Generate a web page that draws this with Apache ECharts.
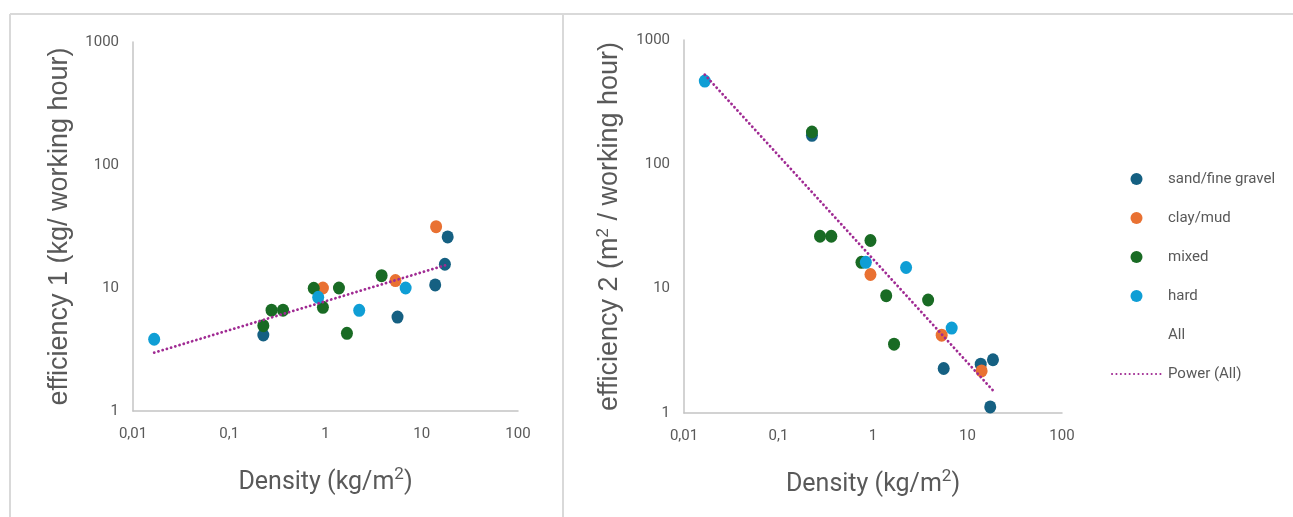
<!DOCTYPE html>
<html>
<head>
<meta charset="utf-8">
<script src="https://cdn.jsdelivr.net/npm/echarts@6/dist/echarts.min.js"></script>
<style>
html,body{margin:0;padding:0;background:#fff;}
#chart{width:1293px;height:517px;}
</style>
</head>
<body>
<div id="chart"></div>
<script>
// ---- data ----
const seriesNames = ['sand/fine gravel', 'clay/mud', 'mixed', 'hard'];
const seriesColors = ['#156082', '#E97132', '#196B24', '#0F9ED5'];

const densitySand  = [0.226, 5.6, 13.8, 17.4, 18.6];
const eff1Sand     = [4.15, 5.8, 10.6, 15.6, 26.0];
const eff2Sand     = [171, 2.28, 2.47, 1.12, 2.68];

const densityClay  = [0.94, 5.33, 14.1];
const eff1Clay     = [10.0, 11.5, 31.5];
const eff2Clay     = [13.0, 4.23, 2.18];

const densityMixed = [0.226, 0.275, 0.362, 0.755, 0.94, 1.38, 1.67, 3.83];
const eff1Mixed    = [4.94, 6.6, 6.6, 9.95, 6.97, 10.0, 4.28, 12.6];
const eff2Mixed    = [182, 26.4, 26.4, 16.3, 24.4, 8.78, 3.58, 8.11];

const densityHard  = [0.0166, 0.84, 2.24, 6.8];
const eff1Hard     = [3.83, 8.4, 6.58, 10.0];
const eff2Hard     = [467, 16.3, 14.8, 4.82];

const xTickLabels = ['0,01', '0,1', '1', '10', '100'];
const yTickLabels = ['1', '10', '100', '1000'];

const xTitle = 'Density (kg/m{sup|2})';
const yTitle1 = 'efficiency 1 (kg/ working hour)';
const yTitle2 = 'efficiency 2 (m{sup|2} / working hour)';

// ---- helpers ----
const densities = [densitySand, densityClay, densityMixed, densityHard];
const eff1 = [eff1Sand, eff1Clay, eff1Mixed, eff1Hard];
const eff2 = [eff2Sand, eff2Clay, eff2Mixed, eff2Hard];

function pairs(xs, ys){ return xs.map((x,i)=>[x, ys[i]]); }

function powerFitLine(effs){
  const xs = [], ys = [];
  densities.forEach((d,k)=>d.forEach((x,i)=>{ xs.push(x); ys.push(effs[k][i]); }));
  const lx = xs.map(Math.log10), ly = ys.map(Math.log10);
  const n = lx.length;
  const mx = lx.reduce((a,b)=>a+b,0)/n, my = ly.reduce((a,b)=>a+b,0)/n;
  let sxy=0, sxx=0;
  for(let i=0;i<n;i++){ sxy += (lx[i]-mx)*(ly[i]-my); sxx += (lx[i]-mx)*(lx[i]-mx); }
  const b = sxy/sxx, a = my - b*mx;
  const xmin = Math.min(...xs), xmax = Math.max(...xs);
  return [xmin, xmax].map(x => [x, Math.pow(10, a + b*Math.log10(x))]);
}

const labelColor = '#595959';
const axisLineColor = '#c4c4c4';

function makeX(gridIndex){
  return {
    type:'log', logBase:10, min:0.01, max:100, gridIndex,
    name: xTitle, nameLocation:'middle', nameGap:55,
    nameTextStyle:{fontFamily:'Roboto', fontSize:25, color:labelColor,
      rich:{sup:{fontFamily:'Roboto', fontSize:17, color:labelColor, verticalAlign:'top', padding:[0,0,16,0]}}},
    axisLine:{show:true, onZero:false, lineStyle:{color:axisLineColor, width:1.5}},
    axisTick:{show:false}, splitLine:{show:false},
    axisLabel:{margin:16, fontFamily:'Roboto', fontSize:15, color:labelColor,
      showMinLabel:true, showMaxLabel:true,
      formatter:v => xTickLabels[Math.round(Math.log10(v))+2]}
  };
}
function makeY(gridIndex, title){
  return {
    type:'log', logBase:10, min:1, max:1000, gridIndex,
    name: title, nameLocation:'middle', nameGap:60, nameRotate:90,
    nameTextStyle:{fontFamily:'Liberation Sans', fontSize:27, color:labelColor,
      rich:{sup:{fontFamily:'Liberation Sans', fontSize:17, color:labelColor, verticalAlign:'top', padding:[0,0,12,0]}}},
    axisLine:{show:true, onZero:false, lineStyle:{color:axisLineColor, width:1.5}},
    axisTick:{show:false}, splitLine:{show:false},
    axisLabel:{margin:14, fontFamily:'Roboto', fontSize:15, color:labelColor,
      showMinLabel:true, showMaxLabel:true,
      formatter:v => yTickLabels[Math.round(Math.log10(v))]}
  };
}

const series = [];
[0,1].forEach(g=>{
  const effs = g===0 ? eff1 : eff2;
  seriesNames.forEach((nm,k)=>{
    series.push({
      type:'scatter', name:nm, xAxisIndex:g, yAxisIndex:g,
      symbol:'circle', symbolSize:[12,13],
      itemStyle:{color:seriesColors[k], opacity:1},
      data: pairs(densities[k], effs[k]), z:2+k
    });
  });
  series.push({
    type:'line', name:'Power (All)', xAxisIndex:g, yAxisIndex:g,
    symbol:'none', showSymbol:false, z:10,
    lineStyle:{color:'#A02B93', width:2.8, type:[0.1,4.3], cap:'round'},
    itemStyle:{color:'#A02B93'},
    data: powerFitLine(effs)
  });
});
series.push({type:'scatter', name:'All', xAxisIndex:0, yAxisIndex:0, data:[], itemStyle:{color:'rgba(0,0,0,0)'}});

const option = {
  animation:false,
  backgroundColor:'#ffffff',
  grid:[
    {left:133, right:1293-518, top:42, bottom:517-411, containLabel:false},
    {left:684, right:1293-1062, top:40, bottom:517-413, containLabel:false}
  ],
  xAxis:[makeX(0), makeX(1)],
  yAxis:[makeY(0, yTitle1), makeY(1, yTitle2)],
  legend:{
    orient:'vertical', left:1106, top:166, itemGap:23, itemWidth:49, itemHeight:12,
    symbolKeepAspect:true,
    textStyle:{fontFamily:'Roboto', fontSize:15, color:labelColor, lineHeight:16, padding:[0,0,0,2]},
    data:[
      {name:'sand/fine gravel', icon:'circle'},
      {name:'clay/mud', icon:'circle'},
      {name:'mixed', icon:'circle'},
      {name:'hard', icon:'circle'},
      {name:'All', icon:'circle', itemStyle:{color:'rgba(0,0,0,0)', opacity:0}},
      {name:'Power (All)', itemStyle:{color:'rgba(0,0,0,0)', borderWidth:0, opacity:0}}
    ]
  },
  graphic:[
    {type:'line', shape:{x1:10, y1:14, x2:1293, y2:14}, style:{stroke:'#d9d9d9', lineWidth:2}, silent:true},
    {type:'line', shape:{x1:10, y1:14, x2:10, y2:517}, style:{stroke:'#d9d9d9', lineWidth:2}, silent:true},
    {type:'line', shape:{x1:563, y1:14, x2:563, y2:517}, style:{stroke:'#d9d9d9', lineWidth:2}, silent:true}
  ],
  series
};

const chart = echarts.init(document.getElementById('chart'), null, {renderer:'canvas'});
chart.setOption(option);
</script>
</body>
</html>
